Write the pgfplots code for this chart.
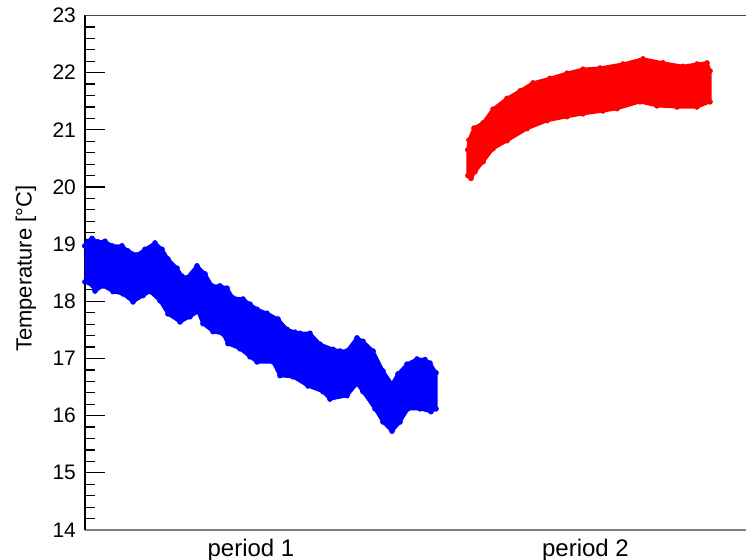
\documentclass[border=0pt]{standalone}
\usepackage{fontspec}
\setmainfont{Liberation Sans}
\usepackage{pgfplots}
\pgfplotsset{compat=1.18}

\definecolor{axisgray}{RGB}{128,128,128}
\definecolor{topgray}{RGB}{70,70,70}

% Envelope of the period-1 readings (upper edge left to right, lower edge back)
\pgfplotstableread{
x    T
0    18.97
3    19.05
7    19.10
13   19.04
20   19.05
27   18.97
37   18.97
43   18.88
52   18.81
60   18.91
70   19.02
77   18.91
83   18.74
92   18.58
97   18.44
102  18.41
112  18.62
120  18.48
127  18.27
135  18.27
142  18.23
148  18.06
158  18.04
165  17.95
172  17.86
182  17.79
193  17.69
202  17.51
210  17.46
215  17.44
225  17.44
235  17.25
248  17.16
255  17.13
262  17.13
272  17.36
278  17.30
288  17.13
298  16.78
307  16.55
313  16.73
322  16.90
332  16.99
340  16.98
345  16.92
351  16.75
351  16.12
346  16.07
335  16.12
323  16.12
315  15.89
307  15.73
298  15.89
290  16.12
278  16.42
272  16.56
262  16.35
245  16.29
238  16.42
223  16.52
208  16.68
195  16.70
188  16.94
172  16.94
165  17.03
155  17.17
143  17.26
138  17.43
128  17.47
118  17.61
113  17.82
105  17.73
95   17.64
83   17.78
75   18.01
65   18.17
58   18.10
48   17.99
38   18.13
28   18.17
18   18.27
10   18.18
8    18.27
0    18.34
0    18.97
}\periodone

% Envelope of the period-2 readings
\pgfplotstableread{
x    T
383  20.65
384  20.82
389  21.03
398  21.12
408  21.36
422  21.55
435  21.68
448  21.82
465  21.90
482  21.99
498  22.06
515  22.08
538  22.15
558  22.24
578  22.17
598  22.11
612  22.15
622  22.17
625  22.03
625  21.49
612  21.40
592  21.40
572  21.42
555  21.49
532  21.37
518  21.33
498  21.28
482  21.23
462  21.16
442  21.02
422  20.81
408  20.67
398  20.44
390  20.27
386  20.15
383  20.20
383  20.65
}\periodtwo

\begin{document}
\begin{tikzpicture}
\begin{axis}[
  scale only axis,
  x=0.5pt, y=28.585pt,
  xmin=0, xmax=661, ymin=14, ymax=23,
  axis lines=left,
  axis line style={-},
  x axis line style={axisgray, line width=1pt},
  y axis line style={black, line width=0.75pt},
  tick align=inside,
  ytick={14,15,...,23},
  minor y tick num=4,
  major tick length=10pt,
  minor tick length=5pt,
  every tick/.style={black, line width=0.6pt},
  xtick={166,500.5},
  xticklabels={period 1, period 2},
  x tick style={draw=none},
  extra x ticks={351},
  extra x tick labels={},
  extra x tick style={major tick length=8.5pt, tick style={black, line width=0.6pt}},
  /pgf/number format/assume math mode=true,
  yticklabel style={font=\fontsize{10.5}{12}\selectfont, xshift=-1pt},
  xticklabel style={font=\fontsize{12}{14}\selectfont, yshift=-1pt},
  ylabel={Temperature [°C]},
  every axis y label/.style={at={(rel axis cs:0,0.5)}, rotate=90, anchor=center,
    yshift=29.5pt, xshift=2pt, font=\fontsize{11}{13}\selectfont},
  clip=true,
]
% filled bands
\addplot[draw=blue, fill=blue, line width=1.6pt, line join=round, no marks]
  table[x=x, y=T] {\periodone};
\addplot[draw=red, fill=red, line width=1.6pt, line join=round, no marks]
  table[x=x, y=T] {\periodtwo};
% readings along the band edges
\addplot[only marks, mark=*, mark size=1.2pt, blue, mark options={draw=blue, fill=blue}]
  table[x=x, y=T] {\periodone};
\addplot[only marks, mark=*, mark size=1.2pt, red, mark options={draw=red, fill=red}]
  table[x=x, y=T] {\periodtwo};
\coordinate (bl) at (rel axis cs:0,0);
\coordinate (tl) at (rel axis cs:0,1);
\coordinate (tr) at (rel axis cs:1,1);
\end{axis}
\draw[topgray, line width=0.75pt] (tl) -- (tr);
\pgfresetboundingbox
\path[use as bounding box] (bl) ++(-42.5pt,-15pt) rectangle ++(373pt,280pt);
\end{tikzpicture}
\end{document}
